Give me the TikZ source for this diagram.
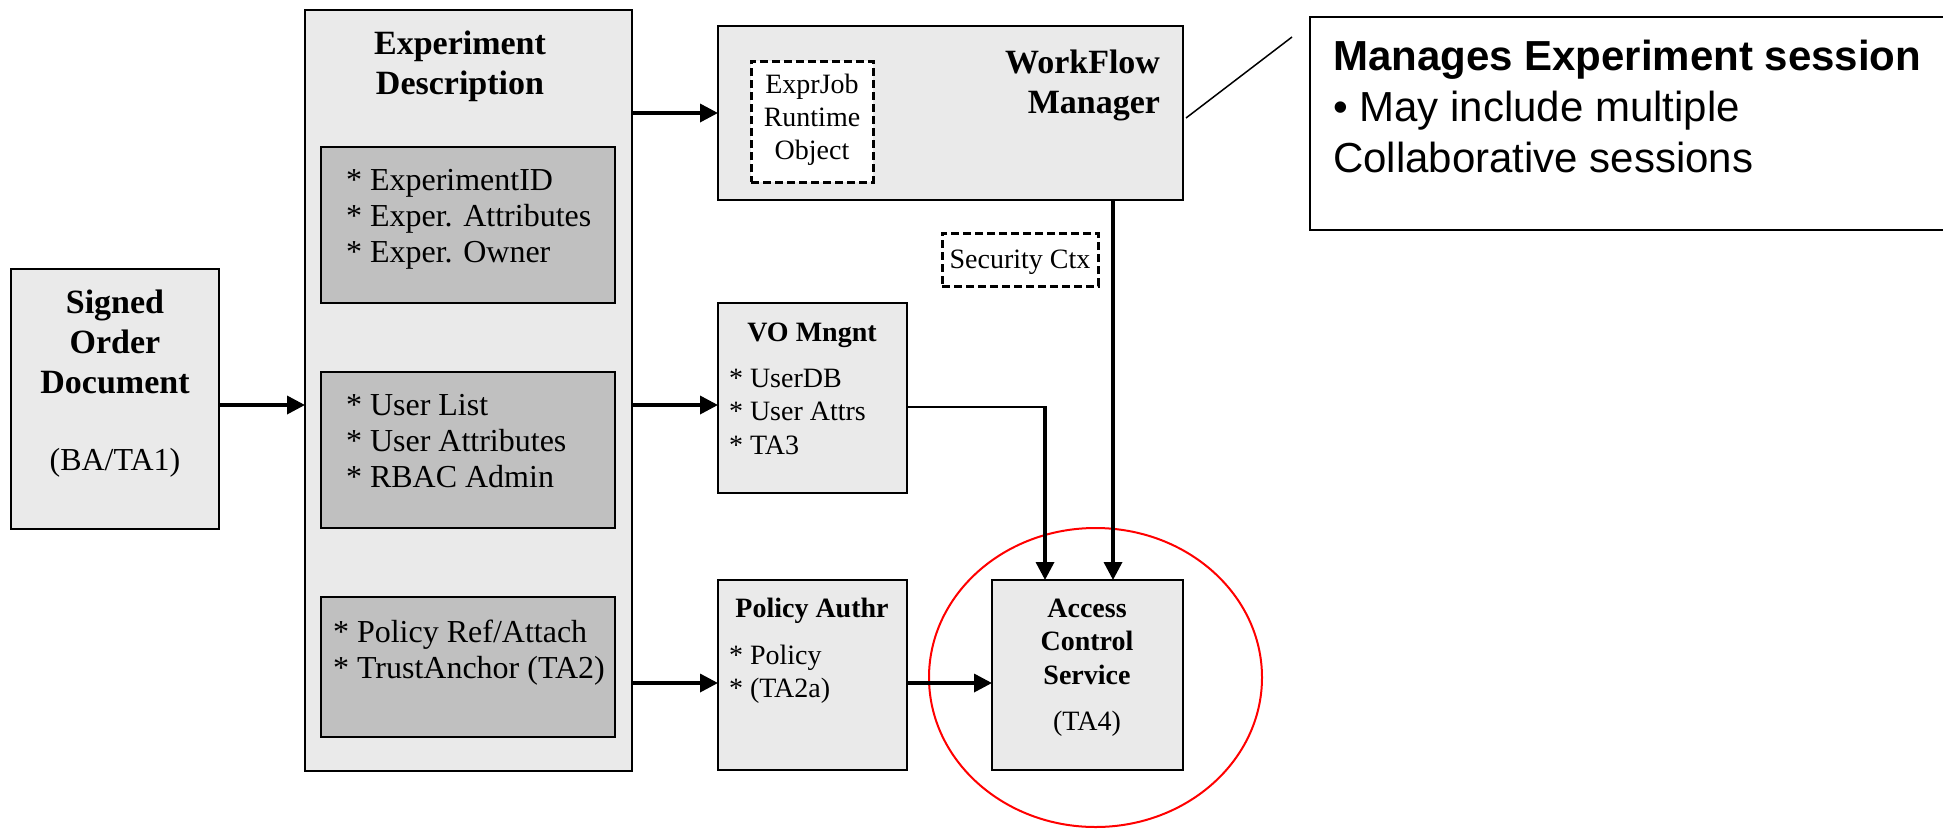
\documentclass[tikz,border=0pt]{standalone}
\usepackage{fontspec}
\setmainfont{Liberation Serif}
\newfontfamily\notefont{Liberation Sans}
\usetikzlibrary{arrows.meta,calc}
\definecolor{boxfill}{HTML}{EAEAEA}
\definecolor{itemfill}{HTML}{C0C0C0}
\definecolor{ringred}{HTML}{FF0000}
\newcommand\fHead{\bfseries\fontsize{34}{40}\selectfont}
\newcommand\fItem{\fontsize{32}{36}\selectfont}
\newcommand\fSub{\fontsize{32}{36}\selectfont}
\newcommand\fSmall{\fontsize{28}{33.5}\selectfont}
\newcommand\fJob{\fontsize{28}{33}\selectfont}
\newcommand\fSmallB{\bfseries\fontsize{28}{33.5}\selectfont}
\newcommand\fNote{\notefont\fontsize{42}{51}\selectfont}
\begin{document}
\begin{tikzpicture}[x=1pt,y=-1pt,
  box/.style={draw=black, line width=2.4pt, fill=boxfill, inner sep=0pt, outer sep=0pt, anchor=north west},
  itembox/.style={box, fill=itemfill},
  dashbox/.style={draw=black, line width=3pt, dash pattern=on 8pt off 4pt, fill=white, inner sep=0pt, outer sep=0pt, anchor=north west},
  arr/.style={line width=3.5pt, -{Triangle[length=18pt,width=18pt]}},
  thinlink/.style={line width=2pt},
  txt/.style={inner sep=0pt, outer sep=0pt}
]
\useasboundingbox (0,0) rectangle (1943,828);

% main boxes
\node[box, minimum width=208, minimum height=260] (sig) at (11,269) {};
\node[box, minimum width=327, minimum height=761] (exp) at (305,10) {};
\node[itembox, minimum width=294, minimum height=156] (in1) at (321,147) {};
\node[itembox, minimum width=294, minimum height=156] (in2) at (321,372) {};
\node[itembox, minimum width=294, minimum height=140] (in3) at (321,597) {};
\node[box, minimum width=465, minimum height=174] (wf) at (718,26) {};
\node[dashbox, minimum width=122, minimum height=121] (job) at (751,61) {};
\node[dashbox, minimum width=156, minimum height=53] (sec) at (942,233) {};
\node[box, minimum width=189, minimum height=190] (vo) at (718,303) {};
\node[box, minimum width=189, minimum height=190] (pol) at (718,580) {};
\node[box, minimum width=191, minimum height=190] (acs) at (992,580) {};
\node[box, fill=white, minimum width=700, minimum height=213] (note) at (1310,17) {};

% red ring around the access control service
\draw[ringred, line width=2pt] (1095.5,677.5) ellipse [x radius=166.5, y radius=149.5];

% texts (multi-line nodes sit on the baseline of their last line)
\node[txt, font=\fHead, align=center, anchor=base] (sigT) at (115,393) {Signed\\Order\\Document};
\node[txt, font=\fSub, anchor=base] (sigS) at (115,470) {(BA/TA1)};
\node[txt, font=\fHead, align=center, anchor=base] (expT) at (460,94) {Experiment\\Description};
\node[txt, font=\fItem, align=left, anchor=base west] (in1T) at (346,262)
  {* ExperimentID\\* Exper. Attributes\\* Exper. Owner};
\node[txt, font=\fItem, align=left, anchor=base west] (in2T) at (346,487)
  {* User List\\* User Attributes\\* RBAC Admin};
\node[txt, font=\fItem, align=left, anchor=base west] (in3T) at (333,678)
  {* Policy Ref/Attach\\* TrustAnchor (TA2)};
\node[txt, font=\fJob, align=center, anchor=base] (jobT) at (812,159.5) {ExprJob\\Runtime\\Object};
\node[txt, font=\fHead, align=right, anchor=base east] (wfT) at (1160,113) {WorkFlow\\Manager};
\node[txt, font=\fSmall, anchor=base] (secT) at (1020,268) {Security Ctx};
\node[txt, font=\fSmallB, anchor=base] (voT) at (812,341) {VO Mngnt};
\node[txt, font=\fSmall, align=left, anchor=base west] (voI) at (729,454)
  {* UserDB\\* User Attrs\\* TA3};
\node[txt, font=\fSmallB, anchor=base] (polT) at (812,617) {Policy Authr};
\node[txt, font=\fSmall, align=left, anchor=base west] (polI) at (729,697.5)
  {* Policy\\* (TA2a)};
\node[txt, font=\fSmallB, align=center, anchor=base] (acsT) at (1087,684) {Access\\Control\\Service};
\node[txt, font=\fSmall, anchor=base] (acsS) at (1087,730) {(TA4)};
\node[txt, font=\fNote, align=left, anchor=base west] (noteT) at (1333,172)
  {\bfseries Manages Experiment session\\• May include multiple\\Collaborative sessions};

% connectors
\coordinate (ySig) at (0,405);
\coordinate (yWf) at (0,113);
\coordinate (yPol) at (0,683);
\coordinate (xWf) at (1113,0);
\coordinate (voBend) at (1045,407);
\coordinate (calloutA) at (1186,118);
\coordinate (calloutB) at (1292,37);

\draw[arr] (sig.east |- ySig) -- (exp.west |- ySig);
\draw[arr] (exp.east |- yWf) -- (wf.west |- yWf);
\draw[arr] (exp.east |- ySig) -- (vo.west |- ySig);
\draw[arr] (exp.east |- yPol) -- (pol.west |- yPol);
\draw[arr] (pol.east |- yPol) -- (acs.west |- yPol);
\draw[arr] (wf.south -| xWf) -- (acs.north -| xWf);
\draw[thinlink] (vo.east |- voBend) -- ([xshift=1.75pt]voBend);
\draw[arr] (voBend) -- (acs.north -| voBend);
\draw[line width=1.5pt] (calloutA) -- (calloutB);
\end{tikzpicture}
\end{document}
